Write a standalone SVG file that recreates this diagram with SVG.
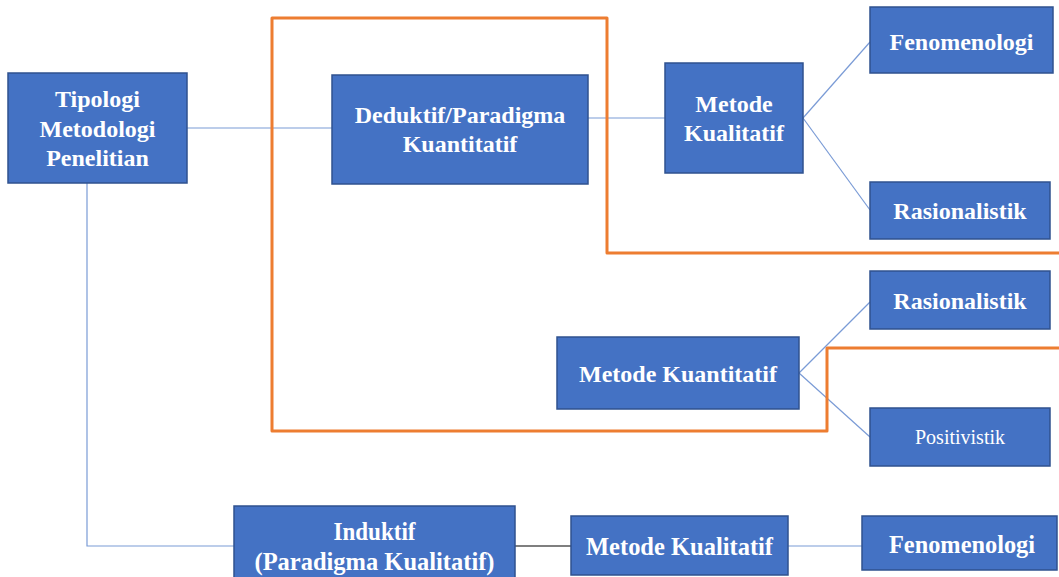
<svg xmlns="http://www.w3.org/2000/svg" width="1059" height="577" viewBox="0 0 1059 577">
<style>
.box{fill:#4472C4;stroke:#2F528F;stroke-width:1.5}
.t{font-family:"Liberation Serif","Times New Roman",serif;font-weight:bold;font-size:24px;fill:#fff;text-anchor:middle}
.tr{font-family:"Liberation Serif","Times New Roman",serif;font-size:20px;fill:#fff;text-anchor:middle}
.tb{font-family:"Liberation Serif","Times New Roman",serif;font-weight:bold;font-size:25px;fill:#fff;text-anchor:middle}
.c{stroke:#7A9BD6;stroke-width:1.2;fill:none}
.frame{stroke:#ED7D31;stroke-width:3;fill:none;stroke-linejoin:round}
</style>
<rect width="1059" height="577" fill="#fff"/>
<g id="connectors">
<line class="c" x1="187" y1="128" x2="332" y2="128"/>
<line class="c" x1="588" y1="118" x2="665" y2="118"/>
<line class="c" x1="803" y1="118" x2="870" y2="42"/>
<line class="c" x1="803" y1="118" x2="870" y2="210"/>
<line class="c" x1="799" y1="373" x2="870" y2="302"/>
<line class="c" x1="799" y1="373" x2="870" y2="437"/>
<polyline class="c" points="87,183 87,546 234,546"/>
<line x1="515" y1="546" x2="571" y2="546" stroke="#000" stroke-width="1.2"/>
<line class="c" x1="788" y1="546" x2="862" y2="546"/>
</g>
<polyline id="frame" class="frame" points="1059,253 607,253 607,18 272,18 272,431 827,431 827,348 1059,348"/>
<g id="tipologi">
<rect class="box" x="8" y="73" width="179" height="110"/>
<text class="t" x="97.5" y="107">Tipologi</text>
<text class="t" x="97.5" y="137">Metodologi</text>
<text class="t" x="97.5" y="166">Penelitian</text>
</g>
<g id="deduktif">
<rect class="box" x="332" y="75" width="256" height="109"/>
<text class="t" x="460" y="123">Deduktif/Paradigma</text>
<text class="t" x="460" y="152">Kuantitatif</text>
</g>
<g id="metode-kualitatif-1">
<rect class="box" x="665" y="63" width="138" height="110"/>
<text class="t" x="734" y="112">Metode</text>
<text class="t" x="734" y="141">Kualitatif</text>
</g>
<g id="fenomenologi-1">
<rect class="box" x="870" y="7" width="183" height="66"/>
<text class="t" x="961.5" y="50">Fenomenologi</text>
</g>
<g id="rasionalistik-1">
<rect class="box" x="870" y="182" width="180" height="57"/>
<text class="t" x="960" y="219">Rasionalistik</text>
</g>
<g id="rasionalistik-2">
<rect class="box" x="870" y="271" width="180" height="58"/>
<text class="t" x="960" y="309">Rasionalistik</text>
</g>
<g id="metode-kuantitatif">
<rect class="box" x="557" y="337" width="242" height="72"/>
<text class="t" x="678" y="382">Metode Kuantitatif</text>
</g>
<g id="positivistik">
<rect class="box" x="870" y="408" width="180" height="58"/>
<text class="tr" x="960" y="444">Positivistik</text>
</g>
<g id="induktif">
<rect class="box" x="234" y="506" width="281" height="75"/>
<text class="tb" x="374.5" y="540" textLength="82" lengthAdjust="spacingAndGlyphs">Induktif</text>
<text class="tb" x="374.5" y="570" textLength="240" lengthAdjust="spacingAndGlyphs">(Paradigma Kualitatif)</text>
</g>
<g id="metode-kualitatif-2">
<rect class="box" x="571" y="516" width="217" height="59"/>
<text class="tb" x="679.5" y="555" textLength="187" lengthAdjust="spacingAndGlyphs">Metode Kualitatif</text>
</g>
<g id="fenomenologi-2">
<rect class="box" x="862" y="516" width="195" height="54"/>
<text class="tb" x="962" y="553" textLength="146" lengthAdjust="spacingAndGlyphs">Fenomenologi</text>
</g>
</svg>
